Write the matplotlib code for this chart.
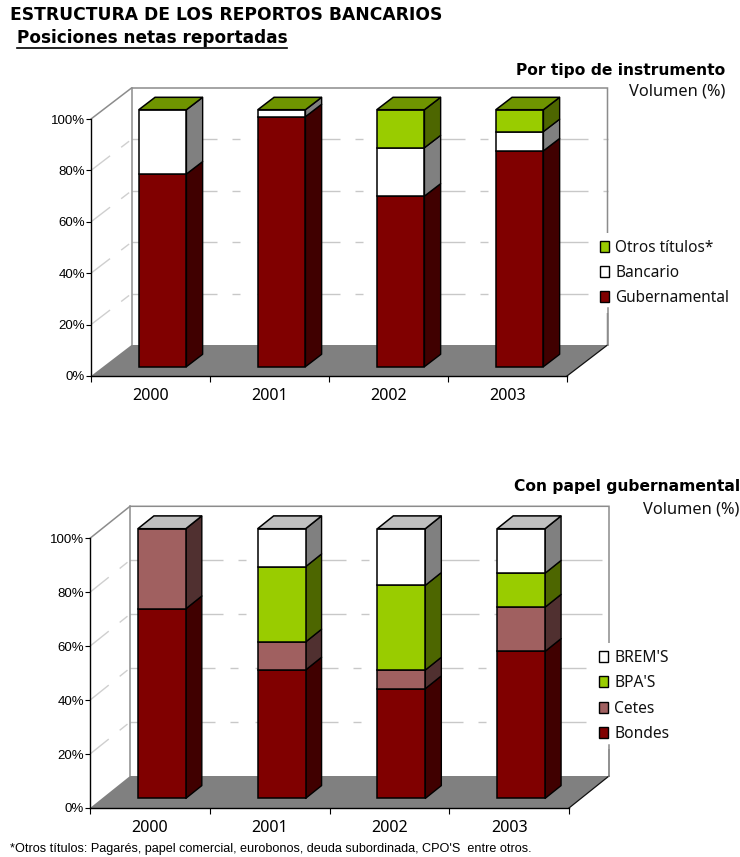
import matplotlib
matplotlib.use("Agg")
import matplotlib.pyplot as plt
from matplotlib.lines import Line2D
from matplotlib.patches import Patch
from matplotlib.ticker import FuncFormatter
import numpy as np

W, H = 740, 857

YEARS = ["2000", "2001", "2002", "2003"]

INSTRUMENT_NAMES = ["Gubernamental", "Bancario", "Otros títulos*"]
GUBERNAMENTAL = [75.0, 97.3, 66.4, 84.0]
BANCARIO = [25.0, 2.7, 18.8, 7.5]
OTROS = [0.0, 0.0, 14.8, 8.5]

PAPER_NAMES = ["Bondes", "Cetes", "BPA'S", "BREM'S"]
BONDES = [70.3, 47.6, 40.7, 54.5]
CETES = [29.7, 10.4, 6.9, 16.4]
BPAS = [0.0, 27.9, 31.4, 12.6]
BREMS = [0.0, 14.1, 21.0, 16.5]

MAROON = ("#800000", "#400000")
WHITE = ("#ffffff", "#808080")
GREEN = ("#99cc00", "#4d6600")
ROSE = ("#a06060", "#503030")

SANS = "Noto Sans"
ARIAL = "Liberation Sans"
WALL = "#8c8c8c"


def px_axes(fig, left, right, top, bottom):
    """Axes whose frame covers the given pixel box (y counted from the top)."""
    return fig.add_axes([left / W, 1 - bottom / H, (right - left) / W, (bottom - top) / H])


def draw_chart(fig, box, depth_px, series, names, colors, top_color,
               legend_xy, wall_resume, grid_shift, label_size):
    left, right, top, bottom = box
    ax = px_axes(fig, left, right, top, bottom)
    ax.set_xlim(0, 4)
    ax.set_ylim(0, 100)
    ax.patch.set_alpha(0)

    ux = (right - left) / 4
    uy = (bottom - top) / 100
    dx = depth_px[0] / ux
    dy = depth_px[1] / uy

    # back wall and side wall grid
    px2pt = 72 / 100
    for v in (20, 40, 60, 80):
        shift = grid_shift if v >= 60 else 0
        dashes = (0, tuple(np.array([85 + shift, 15, 8, 17, 83, 15, 8, 17]) * px2pt))
        ax.plot([dx, 4 + dx], [v + dy, v + dy], color="#c8c8c8", lw=1.0,
                ls=dashes, dash_capstyle="butt", clip_on=False, zorder=1)
        ax.plot([0, dx], [v, v + dy], color="#cfcfcf", lw=1.0,
                ls=(0, tuple(np.array([24, 14, 10, 30]) * px2pt)),
                dash_capstyle="butt", clip_on=False, zorder=1)
    ax.plot([0, dx, 4 + dx, 4 + dx], [100, 100 + dy, 100 + dy, dy], color=WALL, lw=1.1,
            clip_on=False, zorder=1, solid_joinstyle="miter")
    ax.plot([dx, dx], [100 + dy, dy], color=WALL, lw=1.1, clip_on=False, zorder=1)

    # floor
    ax.fill([0, 4, 4 + dx, dx], [0, 0, dy, dy], facecolor="#808080", edgecolor="none",
            clip_on=False, zorder=2)
    ax.plot([4, 4 + dx], [0, dy], color="#101010", lw=0.9, clip_on=False, zorder=2)

    # stacked columns, placed 30 % to 70 % of the way into the depth
    x = np.arange(4) + 0.5
    near_x, near_y = 0.3 * dx, 0.3 * dy
    far_x, far_y = 0.4 * dx, 0.4 * dy
    width = 0.4
    z = 3
    for i in range(4):
        base = near_y
        xl = x[i] - width / 2 + near_x
        xr = xl + width
        for vals, (front, side) in zip(series, colors):
            h = vals[i]
            if h <= 0:
                continue
            ax.fill([xr, xr + far_x, xr + far_x, xr],
                    [base, base + far_y, base + h + far_y, base + h],
                    facecolor=side, edgecolor="black", lw=1.0, clip_on=False,
                    zorder=z, joinstyle="round")
            ax.bar(xl, h, width=width, bottom=base, align="edge", color=front,
                   edgecolor="black", linewidth=1.1, clip_on=False, zorder=z + 0.5)
            base += h
            z += 1
        ax.fill([xl, xr, xr + far_x, xl + far_x],
                [base, base, base + far_y, base + far_y],
                facecolor=top_color, edgecolor="black", lw=1.1, clip_on=False, zorder=z)
        z += 1

    # axes, ticks and labels
    for s in ("top", "right"):
        ax.spines[s].set_visible(False)
    for s in ("left", "bottom"):
        ax.spines[s].set_linewidth(1.0)
        ax.spines[s].set_zorder(z + 1)
    ax.set_yticks(np.arange(0, 101, 20))
    ax.yaxis.set_major_formatter(FuncFormatter(lambda v, _: f"{v:.0f}%"))
    ax.set_xticks(np.arange(5))
    ax.set_xticklabels([])
    ax.set_xticks(x, minor=True)
    ax.set_xticklabels(YEARS, minor=True, fontfamily=SANS, fontsize=11.6)
    ax.tick_params(axis="x", which="major", length=4.0, width=0.8, direction="out")
    ax.tick_params(axis="x", which="minor", length=0, pad=8.5)
    ax.tick_params(axis="y", length=3.6, width=0.8, pad=0.7, labelsize=9.5)
    for lab in ax.get_yticklabels():
        lab.set_fontfamily(ARIAL)

    # legend in reversed stacking order, on a white plate over the wall line
    handles = [Patch(facecolor=c[0], edgecolor="black", linewidth=1.0) for c in colors]
    leg = fig.legend(handles[::-1], names[::-1], loc="upper left",
                     bbox_to_anchor=(legend_xy[0] / W, 1 - legend_xy[1] / H),
                     frameon=True, facecolor="white", edgecolor="none", framealpha=1,
                     prop={"family": SANS, "size": label_size},
                     handlelength=0.62, handleheight=0.72, handletextpad=0.39,
                     labelspacing=0.6, borderpad=0.45, borderaxespad=0, fancybox=False)
    for t in leg.get_texts():
        t.set_color("#111111")

    # the wall line picks up again right under the legend rows
    wall_x = (right + depth_px[0]) / W
    fig.add_artist(Line2D([wall_x, wall_x],
                          [1 - wall_resume / H, 1 - (bottom - depth_px[1]) / H],
                          color=WALL, lw=1.1, zorder=6))
    return ax


fig = plt.figure(figsize=(W / 100, H / 100), dpi=100, facecolor="white")

draw_chart(fig, (91, 567, 119, 376), (40.5, 31),
           [GUBERNAMENTAL, BANCARIO, OTROS], INSTRUMENT_NAMES,
           [MAROON, WHITE, GREEN], "#6f9400", (592.7, 233), 308, 0, 11.05)
draw_chart(fig, (90, 569, 538.3, 808), (40, 32),
           [BONDES, CETES, BPAS, BREMS], PAPER_NAMES,
           [MAROON, ROSE, GREEN, WHITE], "#c0c0c0", (591.7, 643), 745, 8, 11.2)


def put(x, y, s, **kw):
    fig.text(x / W, 1 - y / H, s, va="center", **kw)


put(10, 15, "ESTRUCTURA DE LOS REPORTOS BANCARIOS", fontfamily="DejaVu Sans",
    fontweight="bold", fontsize=12.35, color="black")
put(17, 38, "Posiciones netas reportadas", fontfamily="DejaVu Sans",
    fontweight="bold", fontsize=12.2, color="black")
fig.add_artist(Line2D([17 / W, 287 / W], [1 - 47.5 / H, 1 - 47.5 / H], color="black", lw=1.2))

put(725, 70, "Por tipo de instrumento", ha="right", fontfamily="DejaVu Sans",
    fontweight="bold", fontsize=11.15)
put(725, 92, "Volumen (%)", ha="right", fontfamily=SANS, fontsize=11.8, color="#111111")
put(740, 486, "Con papel gubernamental", ha="right", fontfamily="DejaVu Sans",
    fontweight="bold", fontsize=11.2)
put(739, 510, "Volumen (%)", ha="right", fontfamily=SANS, fontsize=11.8, color="#111111")

put(10, 849, "*Otros títulos: Pagarés, papel comercial, eurobonos, deuda subordinada, CPO'S  entre otros.",
    fontfamily=ARIAL, fontsize=9.07, color="black")

fig.savefig("out.png", dpi=100)
